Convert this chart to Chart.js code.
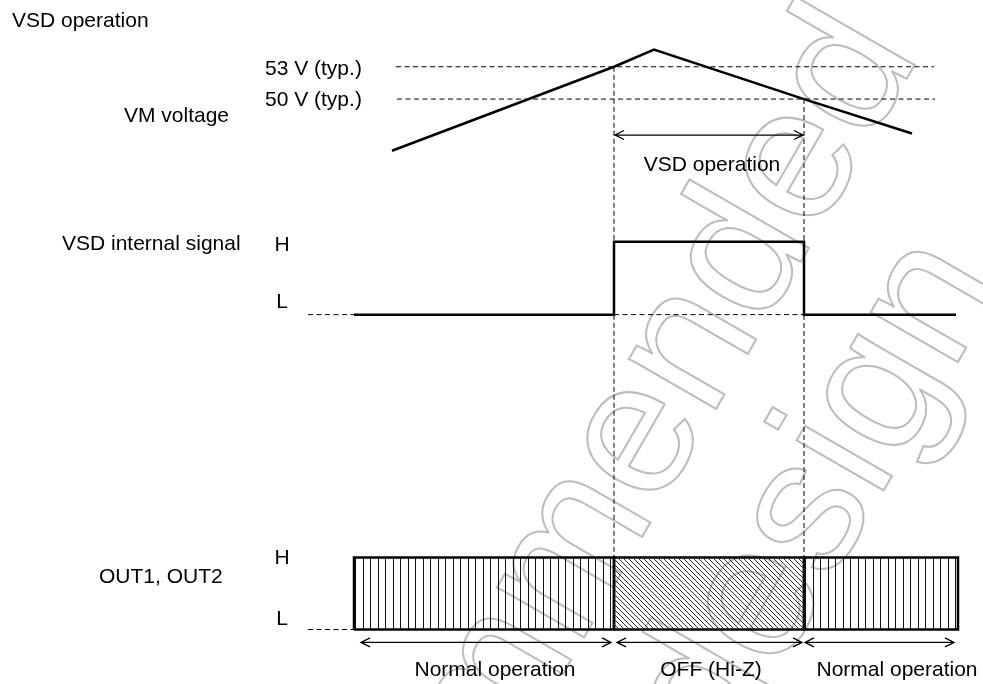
<!DOCTYPE html>
<html>
<head>
<meta charset="utf-8">
<script src="https://cdn.jsdelivr.net/npm/chart.js@4.4.1/dist/chart.umd.min.js"></script>
<style>
  html, body { margin: 0; padding: 0; background: #fff; }
  #wrap { position: relative; width: 983px; height: 684px; }
</style>
</head>
<body>
<div id="wrap"><canvas id="timing"></canvas></div>
<script>
// time in arbitrary units, VM in volts, logic levels 0 = L, 1 = H
const vmTime = [3.8, 26, 30, 45, 55.8];
const vmVolts = [45.2, 53, 54.6, 50, 46.8];
const thresholdVolts = [53, 50];
const thresholdLabels = ['53 V (typ.)', '50 V (typ.)'];
const thresholdFrom = [4.2, 4.3];
const thresholdTo = [58, 58.1];
const vsdOn = 26;
const vsdOff = 45;
const vsdArrowVolts = 46.66;
const sigTime = [0, 26, 26, 45, 45, 60.2];
const sigLevel = [0, 0, 1, 1, 0, 0];
const stubFrom = -4.6;
const outStart = [0, 26, 45];
const outEnd = [26, 45, 60.4];
const outMode = ['normal', 'off', 'normal'];
const outLabels = ['Normal operation', 'OFF (Hi-Z)', 'Normal operation'];
const arrowStart = [0.7, 26.3, 45.1];
const arrowEnd = [25.7, 44.8, 60];
const rowLabels = ['VM voltage', 'VSD internal signal', 'OUT1, OUT2'];
const watermark = ['Not recommended', 'for new design'];

const FONT = '21px "Liberation Sans", Arial, sans-serif';
const canvas = document.getElementById('timing');
const mainCtx = canvas.getContext('2d');

function makeStripes() {
  const c = document.createElement('canvas');
  c.width = 15; c.height = 4;
  const g = c.getContext('2d');
  g.fillStyle = '#111';
  g.fillRect(3, 0, 1, 4);
  g.fillRect(10, 0, 1, 4);
  return mainCtx.createPattern(c, 'repeat');
}

function makeHatch() {
  const c = document.createElement('canvas');
  c.width = 5; c.height = 5;
  const g = c.getContext('2d');
  g.strokeStyle = '#333';
  g.lineWidth = 1;
  g.beginPath();
  g.moveTo(-1, -1); g.lineTo(6, 6);
  g.moveTo(-1, 4); g.lineTo(1, 6);
  g.moveTo(4, -1); g.lineTo(6, 1);
  g.stroke();
  return mainCtx.createPattern(c, 'repeat');
}

const fills = { normal: makeStripes(), off: makeHatch() };

const line = (data, axis, extra) => Object.assign({
  data, yAxisID: axis, showLine: true, borderColor: '#000',
  borderWidth: 2.5, pointRadius: 0, fill: false, tension: 0
}, extra);

const datasets = [];

// VM voltage ramp
datasets.push(line(vmTime.map((t, i) => ({ x: t, y: vmVolts[i] })), 'yV'));

// threshold references
thresholdVolts.forEach((v, i) => {
  datasets.push(line([{ x: thresholdFrom[i], y: v }, { x: thresholdTo[i], y: v }], 'yV',
    { borderWidth: 1, borderDash: [5, 3.5] }));
});

// VSD internal signal
datasets.push(line([{ x: stubFrom, y: 0 }, { x: sigTime[0], y: 0 }], 'ySig', { borderWidth: 1, borderDash: [5, 3.5] }));
datasets.push(line([{ x: vsdOn, y: 0 }, { x: vsdOff, y: 0 }], 'ySig', { borderWidth: 1, borderDash: [5, 3.5] }));
datasets.push(line(sigTime.map((t, i) => ({ x: t, y: sigLevel[i] })), 'ySig'));

// OUT1/OUT2 blocks
datasets.push(line([{ x: stubFrom, y: 0 }, { x: outStart[0], y: 0 }], 'yOut', { borderWidth: 1, borderDash: [5, 3.5] }));
outStart.forEach((s, i) => {
  datasets.push(line([{ x: s, y: 1 }, { x: outEnd[i], y: 1 }], 'yOut',
    { borderWidth: 0, fill: { value: 0 }, backgroundColor: fills[outMode[i]] }));
});
outStart.forEach((s, i) => {
  const e = outEnd[i];
  datasets.push(line([{ x: s, y: 0 }, { x: s, y: 1 }, { x: e, y: 1 }, { x: e, y: 0 }, { x: s, y: 0 }], 'yOut',
    { borderWidth: 2.5, borderJoinStyle: 'miter' }));
});

function arrow(ctx, x0, x1, y) {
  ctx.beginPath();
  ctx.moveTo(x0, y); ctx.lineTo(x1, y);
  ctx.moveTo(x0 + 9, y - 4.5); ctx.lineTo(x0, y); ctx.lineTo(x0 + 9, y + 4.5);
  ctx.moveTo(x1 - 9, y - 4.5); ctx.lineTo(x1, y); ctx.lineTo(x1 - 9, y + 4.5);
  ctx.stroke();
}

const decor = {
  id: 'decor',
  beforeDatasetsDraw(chart) {
    const ctx = chart.ctx;
    ctx.save();
    ctx.translate(530, 731);
    ctx.rotate(-Math.PI / 3);
    ctx.font = '190px "Liberation Sans", Arial, sans-serif';
    ctx.textAlign = 'center';
    ctx.strokeStyle = '#bcbcbc';
    ctx.lineWidth = 2;
    ctx.strokeText(watermark[0], 0, 0);
    ctx.strokeText(watermark[1], 8, 186);
    ctx.restore();
  },
  afterDatasetsDraw(chart) {
    const ctx = chart.ctx;
    const { x, yV, ySig, yOut } = chart.scales;
    ctx.save();
    ctx.strokeStyle = '#000';

    // VSD boundaries
    ctx.lineWidth = 1;
    ctx.setLineDash([5, 3]);
    [[vsdOn, thresholdVolts[0]], [vsdOff, thresholdVolts[1]]].forEach(([t, v]) => {
      ctx.beginPath();
      ctx.moveTo(x.getPixelForValue(t), yV.getPixelForValue(v));
      ctx.lineTo(x.getPixelForValue(t), yOut.getPixelForValue(1));
      ctx.stroke();
    });
    ctx.setLineDash([]);

    // span arrows
    ctx.lineWidth = 1.3;
    arrow(ctx, x.getPixelForValue(vsdOn + 0.1), x.getPixelForValue(vsdOff - 0.1), yV.getPixelForValue(vsdArrowVolts));
    const ay = yOut.getPixelForValue(-0.18);
    arrowStart.forEach((s, i) => arrow(ctx, x.getPixelForValue(s), x.getPixelForValue(arrowEnd[i]), ay));

    // text
    ctx.fillStyle = '#000';
    ctx.font = FONT;
    ctx.textBaseline = 'alphabetic';
    ctx.textAlign = 'left';
    ctx.fillText('VSD operation', 12, 27);
    thresholdVolts.forEach((v, i) => ctx.fillText(thresholdLabels[i], 265, yV.getPixelForValue(v) + 8 - i * 1.5));
    ctx.fillText(rowLabels[0], 124, 122);
    ctx.fillText(rowLabels[1], 62, ySig.getPixelForValue(1) + 8.5);
    ctx.fillText(rowLabels[2], 99, yOut.getPixelForValue(0.65));

    ctx.textAlign = 'center';
    [[ySig, 0], [ySig, 1], [yOut, 0], [yOut, 1]].forEach(([sc, lv]) => {
      const off = sc === yOut ? (lv ? 0.015 : 0.17) : (lv ? -0.02 : 0.2);
      ctx.fillText(lv ? 'H' : 'L', 282, sc.getPixelForValue(lv + off) + 7.5);
    });
    ctx.fillText('VSD operation', (x.getPixelForValue(vsdOn) + x.getPixelForValue(vsdOff)) / 2 + 3,
      yV.getPixelForValue(vsdArrowVolts) + 35.5);
    const ly = yOut.getPixelForValue(-0.65);
    outLabels.forEach((lab, i) => {
      const cx = (x.getPixelForValue(outStart[i]) + x.getPixelForValue(outEnd[i])) / 2;
      ctx.fillText(lab, cx + [11, 2, 16][i], ly);
    });
    ctx.restore();
  }
};

new Chart(canvas, {
  type: 'scatter',
  data: { datasets },
  options: {
    responsive: true,
    maintainAspectRatio: false,
    animation: false,
    events: [],
    layout: { padding: 0 },
    plugins: { legend: { display: false }, tooltip: { enabled: false } },
    scales: {
      x: { type: 'linear', display: false, min: -35.4, max: 62.9 },
      yV: { type: 'linear', display: false, min: -4.32, max: 59.2 },
      ySig: { type: 'linear', display: false, min: -5.06, max: 4.31 },
      yOut: { type: 'linear', display: false, min: -0.757, max: 8.743 }
    }
  },
  plugins: [decor]
});
</script>
</body>
</html>
